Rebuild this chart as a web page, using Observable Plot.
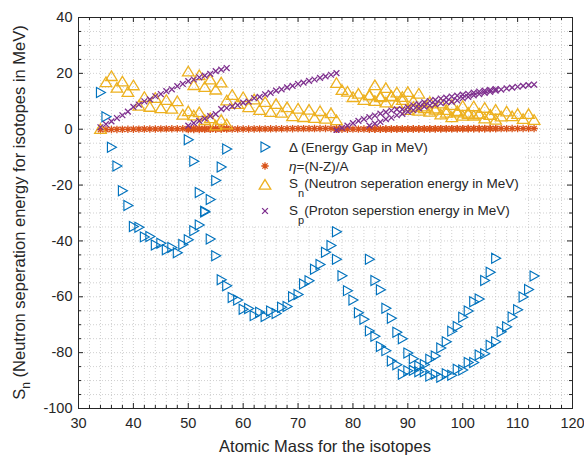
<!DOCTYPE html>
<html><head><meta charset="utf-8">
<script src="https://cdn.jsdelivr.net/npm/d3@7"></script>
<script src="https://cdn.jsdelivr.net/npm/@observablehq/plot@0.6"></script>
<style>
body{margin:0;background:#fff;}
#chart{width:584px;height:455px;}
</style></head><body><div id="chart"></div>
<script>
// ---- Data ----
const xTicks = [30, 40, 50, 60, 70, 80, 90, 100, 110, 120];
const yTicks = [-100, -80, -60, -40, -20, 0, 20, 40];

const massCa  = [34,35,36,37,38,39,40,41,42,43,44,45,46,47,48,49,50,51,52,53,54,55,56,57];
const deltaCa = [13.15,4.44,-6.44,-13.14,-22.06,-27.28,-34.85,-35.14,-38.55,-38.41,-41.47,-40.81,-43.14,-42.34,-44.22,-41.29,-39.57,-36.34,-34.27,-29.39,-25.16,-18.35,-13.51,-7.1];
const etaCa   = [-0.18,-0.14,-0.11,-0.08,-0.05,-0.03,0,0.02,0.05,0.07,0.09,0.11,0.13,0.15,0.17,0.18,0.20,0.22,0.23,0.25,0.26,0.27,0.29,0.30];
const snCa    = [0,16.78,18.95,14.77,16.99,13.29,15.64,8.36,11.48,7.93,11.13,7.41,10.40,7.27,9.95,5.14,6.35,4.84,6.00,3.19,3.84,1.26,3.23,1.66];
const spCa    = [0.7,1.8,2.8,4.0,5.0,6.3,8.0,8.8,10.0,10.7,11.8,12.6,13.6,14.3,15.4,16.2,17.2,17.8,18.6,19.2,19.8,20.8,21.3,21.9];

const massNi  = [50,51,52,53,54,55,56,57,58,59,60,61,62,63,64,65,66,67,68,69,70,71,72,73,74,75,76,77];
const deltaNi = [-3.79,-11.44,-22.65,-29.63,-39.28,-45.33,-53.90,-56.08,-60.23,-61.16,-64.47,-64.22,-66.75,-65.51,-67.10,-65.13,-66.01,-63.74,-63.46,-59.98,-59.21,-55.41,-54.23,-50.11,-48.45,-44.06,-41.61,-36.7];
const etaNi   = [-0.12,-0.10,-0.08,-0.06,-0.04,-0.02,0,0.02,0.03,0.05,0.07,0.08,0.10,0.11,0.13,0.14,0.15,0.16,0.18,0.19,0.20,0.21,0.22,0.23,0.24,0.25,0.26,0.27];
const snNi    = [20.6,15.72,19.28,15.05,17.72,14.12,16.64,10.25,12.22,9.00,11.39,7.82,10.60,6.84,9.66,6.10,8.95,5.80,7.79,4.59,7.30,4.27,6.89,3.95,6.41,3.68,5.62,3.16];
const spNi    = [1.3,2.2,3.0,3.8,4.7,5.4,7.2,7.6,8.2,8.6,9.5,9.9,11.1,11.6,12.5,13.0,13.8,14.3,15.0,15.5,16.2,16.7,17.3,17.8,18.4,18.9,19.5,20.1];

const massY   = [77,78,79,80,81,82,83,84,85,86,87,88,89,90,91,92,93,94,95,96,97,98,99,100,101,102,103,104,105,106];
const deltaY  = [-46.6,-52.5,-57.8,-61.15,-65.71,-68.06,-72.21,-74.16,-77.84,-79.28,-83.02,-84.30,-87.71,-86.49,-86.35,-84.82,-84.22,-82.35,-81.21,-78.35,-76.12,-72.30,-70.65,-67.33,-65.07,-61.8,-60.8,-54.2,-51.2,-46.2];
const etaY    = [-0.01,0,0.01,0.03,0.04,0.05,0.06,0.07,0.08,0.09,0.10,0.11,0.12,0.13,0.14,0.15,0.16,0.17,0.18,0.19,0.20,0.20,0.21,0.22,0.23,0.24,0.24,0.25,0.26,0.26];
const snY     = [16.5,13.97,13.37,11.42,12.63,10.42,12.22,10.02,11.75,9.51,11.81,9.35,11.48,6.85,7.93,6.54,7.47,6.20,6.93,5.21,5.84,4.25,6.42,4.75,5.81,4.8,5.5,3.8,5.0,3.3];
const spY     = [-0.4,0.5,1.3,2.2,3.0,3.6,4.3,4.9,5.6,6.1,6.7,7.1,7.1,7.8,8.5,9.0,9.6,10.1,10.5,11.0,11.3,11.7,12.0,12.4,12.7,13.1,13.5,13.8,14.1,14.4];

const massMo  = [83,84,85,86,87,88,89,90,91,92,93,94,95,96,97,98,99,100,101,102,103,104,105,106,107,108,109,110,111,112,113];
const deltaMo = [-46.6,-54.2,-57.5,-64.11,-67.69,-72.70,-75.00,-80.17,-82.21,-86.81,-86.81,-88.41,-87.71,-88.79,-87.54,-88.11,-85.97,-86.18,-83.51,-83.56,-80.85,-80.36,-77.34,-76.14,-72.56,-70.76,-67.25,-64.6,-60.1,-57.4,-52.6];
const etaMo   = [-0.01,0,0.01,0.02,0.03,0.05,0.06,0.07,0.08,0.09,0.10,0.11,0.12,0.13,0.13,0.14,0.15,0.16,0.17,0.18,0.18,0.19,0.20,0.21,0.21,0.22,0.23,0.24,0.24,0.25,0.26];
const snMo    = [12.0,15.67,11.37,14.68,11.65,13.08,10.37,13.24,10.11,12.67,8.07,9.67,7.37,9.15,6.82,8.64,5.93,8.28,5.40,8.12,5.36,7.58,5.05,6.87,4.49,6.27,4.56,5.42,3.57,5.37,3.27];
const spMo    = [1.3,2.0,2.6,3.6,4.1,5.0,5.5,6.3,6.8,7.5,8.1,8.5,8.9,9.3,9.7,9.8,10.3,11.1,11.6,12.1,12.6,13.0,13.4,13.8,14.2,14.6,14.9,15.2,15.5,15.8,16.0];

// ---- Build table ----
const rows = [];
function addChain(mass, delta, eta, sn, sp) {
  mass.forEach((A, i) => rows.push({A, delta: delta[i], eta: eta[i], sn: sn[i], sp: sp[i]}));
}
addChain(massCa, deltaCa, etaCa, snCa, spCa);
addChain(massNi, deltaNi, etaNi, snNi, spNi);
addChain(massY, deltaY, etaY, snY, spY);
addChain(massMo, deltaMo, etaMo, snMo, spMo);

// ---- Marker shapes ----
const triRight = {draw(c){ c.moveTo(-4,-5); c.lineTo(5,0); c.lineTo(-4,5); c.closePath(); }};
const triUp    = {draw(c){ c.moveTo(0,-5.4); c.lineTo(5.8,4.2); c.lineTo(-5.8,4.2); c.closePath(); }};
const aster    = {draw(c){ const r=3.7, d=r*0.7071;
  c.moveTo(-r,0); c.lineTo(r,0); c.moveTo(0,-r); c.lineTo(0,r);
  c.moveTo(-d,-d); c.lineTo(d,d); c.moveTo(-d,d); c.lineTo(d,-d); }};
const xMark    = {draw(c){ const r=2.9; c.moveTo(-r,-r); c.lineTo(r,r); c.moveTo(-r,r); c.lineTo(r,-r); }};

const cBlue="#0072BD", cOrange="#D95319", cYellow="#EDB120", cPurple="#7E2F8E", ink="#262626";

const W=584, H=455, mL=78, mR=12, mT=17, mB=47;
const pW = W-mL-mR, pH = H-mT-mB;
const xMinor = d3.range(30, 121, 2);
const yMinor = d3.range(-100, 41, 5);
const xMinorOnly = xMinor.filter(v => v % 10 !== 0);
const yMinorOnly = yMinor.filter(v => v % 20 !== 0);

const grid = {stroke:"#c4c4c4", strokeOpacity:0.8, strokeDasharray:"1,2", strokeWidth:1};
const tk = {stroke: ink, strokeWidth: 1};

const plot = Plot.plot({
  width: W, height: H,
  marginLeft: mL, marginRight: mR, marginTop: mT, marginBottom: mB,
  x: {domain: [30, 120]},
  y: {domain: [-100, 40]},
  style: {fontFamily: "'Liberation Sans', Arial, sans-serif", fontSize: "14.5px", color: ink, background: "#fff"},
  marks: [
    Plot.ruleX(xMinor, {x: d => d, ...grid}),
    Plot.ruleY(yMinor, {y: d => d, ...grid}),
    Plot.dot(rows, {x: "A", y: "delta", symbol: triRight, stroke: cBlue, fill: "none", strokeWidth: 1.15}),
    Plot.dot(rows, {x: "A", y: "eta", symbol: aster, stroke: cOrange, fill: "none", strokeWidth: 1.3}),
    Plot.dot(rows, {x: "A", y: "sn", symbol: triUp, stroke: cYellow, fill: "none", strokeWidth: 1.3}),
    Plot.dot(rows, {x: "A", y: "sp", symbol: xMark, stroke: cPurple, fill: "none", strokeWidth: 1.3}),
    // inward ticks on all four sides
    Plot.tickX(xTicks, {x: d => d, insetTop: pH - 5, ...tk}),
    Plot.tickX(xMinorOnly, {x: d => d, insetTop: pH - 3, ...tk}),
    Plot.tickX(xTicks, {x: d => d, insetBottom: pH - 5, ...tk}),
    Plot.tickX(xMinorOnly, {x: d => d, insetBottom: pH - 3, ...tk}),
    Plot.tickY(yTicks, {y: d => d, insetRight: pW - 5, ...tk}),
    Plot.tickY(yMinorOnly, {y: d => d, insetRight: pW - 3, ...tk}),
    Plot.tickY(yTicks, {y: d => d, insetLeft: pW - 5, ...tk}),
    Plot.tickY(yMinorOnly, {y: d => d, insetLeft: pW - 3, ...tk}),
    Plot.frame({stroke: ink, strokeWidth: 1}),
    Plot.axisX(xTicks, {tickSize: 0, tickPadding: 9, label: null, tickFormat: d => String(d)}),
    Plot.axisY(yTicks, {tickSize: 0, tickPadding: 6, label: null, tickFormat: d => String(d)})
  ]
});
document.getElementById("chart").appendChild(plot);

const svg = d3.select(plot);
const font = "'Liberation Sans', Arial, sans-serif";

// x label
svg.append("text").attr("x", mL + pW/2).attr("y", 446).attr("dy", "0.35em")
  .attr("text-anchor", "middle").attr("fill", ink).style("font-size", "16.5px").style("font-family", font)
  .text("Atomic Mass for the isotopes");

// y label
const yl = svg.append("text").attr("transform", `translate(19,${mT + pH/2}) rotate(-90)`)
  .attr("dy", "0.35em").attr("text-anchor", "middle").attr("fill", ink)
  .style("font-size", "16.5px").style("font-family", font);
yl.append("tspan").text("S");
yl.append("tspan").attr("dy", 5).style("font-size", "12px").text("n");
yl.append("tspan").attr("dy", -5).text(" (Neutron seperation energy for isotopes in MeV)");

// legend
const leg = svg.append("g").style("font-family", font).style("font-size", "13.5px");
leg.append("rect").attr("x", 244).attr("y", 133).attr("width", 281).attr("height", 93).attr("fill", "#fff");
const legItems = [
  {sym: triRight, color: cBlue, y: 147, w: 1.15},
  {sym: aster, color: cOrange, y: 166, w: 1.3},
  {sym: triUp, color: cYellow, y: 185, w: 1.3},
  {sym: xMark, color: cPurple, y: 211, w: 1.3}
];
legItems.forEach(it => leg.append("path").attr("d", d3.symbol(it.sym)())
  .attr("transform", `translate(265,${it.y})`).attr("fill", "none")
  .attr("stroke", it.color).attr("stroke-width", it.w));
const tx = 289;
function legText(y) {
  return leg.append("text").attr("x", tx).attr("y", y).attr("dy", "0.35em")
    .attr("text-anchor", "start").attr("fill", ink);
}
legText(147).text("\u0394 (Energy Gap in MeV)");
const t2 = legText(166);
t2.append("tspan").style("font-style", "italic").text("\u03b7");
t2.append("tspan").text("=(N-Z)/A");
const t3 = legText(183);
t3.append("tspan").text("S");
t3.append("tspan").attr("dy", 9).style("font-size", "11px").text("n");
t3.append("tspan").attr("dy", -9).text("(Neutron seperation energy in MeV)");
const t4 = legText(210);
t4.append("tspan").text("S");
t4.append("tspan").attr("dy", 9).style("font-size", "11px").text("p");
t4.append("tspan").attr("dy", -9).text("(Proton seperstion energy in MeV)");
</script>
</body></html>
